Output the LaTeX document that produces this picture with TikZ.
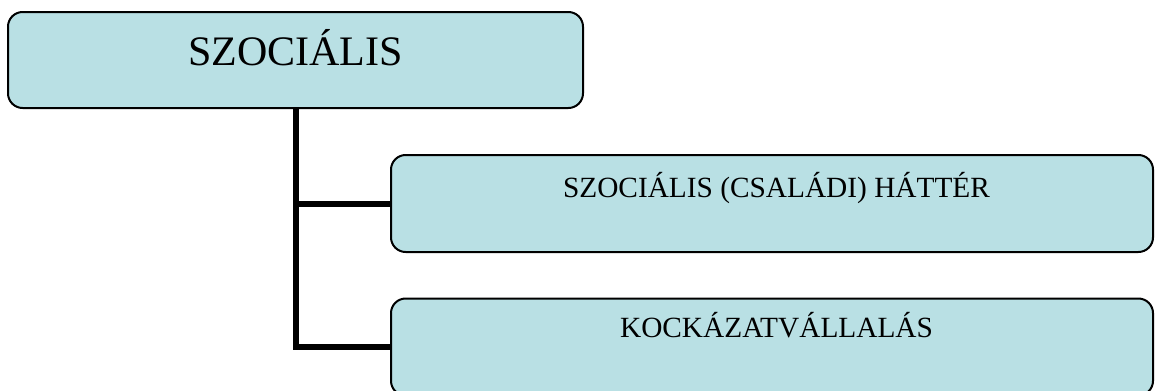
\documentclass[tikz,border=0pt]{standalone}
\usepackage{fontspec}
\setmainfont{Liberation Serif}
\definecolor{boxfill}{RGB}{185,224,228}
\begin{document}
\begin{tikzpicture}[x=0.75pt,y=-0.75pt,
  card/.style={draw=black,line width=1.5pt,fill=boxfill,rounded corners=11pt,
    inner sep=0pt,rectangle},
  conn/.style={draw=black,line width=4.5pt},
  lbl/.style={anchor=base,inner sep=0pt,text=black}]
  \useasboundingbox (0,0) rectangle (1155,390);
  % boxes
  \node[card,minimum width=431.25pt,minimum height=72pt] (top) at (295.5,60) {};
  \node[card,minimum width=571.5pt,minimum height=72.75pt] (b2) at (772,203.5) {};
  \node[card,minimum width=571.5pt,minimum height=72.75pt] (b3) at (772,347) {};
  % connectors
  \draw[conn] (top.south) |- (b3.west);
  \draw[conn] (top.south |- b2.west) -- (b2.west);
  % texts
  \node[lbl,font=\fontsize{31.5}{36}\selectfont] (t1) at (295.5,65) {SZOCIÁLIS};
  \node[lbl,font=\fontsize{22}{26}\selectfont] (t2) at (776.5,197.7) {SZOCIÁLIS (CSALÁDI) HÁTTÉR};
  \node[lbl,font=\fontsize{22}{26}\selectfont] (t3) at (776.5,337.7) {KOCKÁZATVÁLLALÁS};
\end{tikzpicture}
\end{document}
